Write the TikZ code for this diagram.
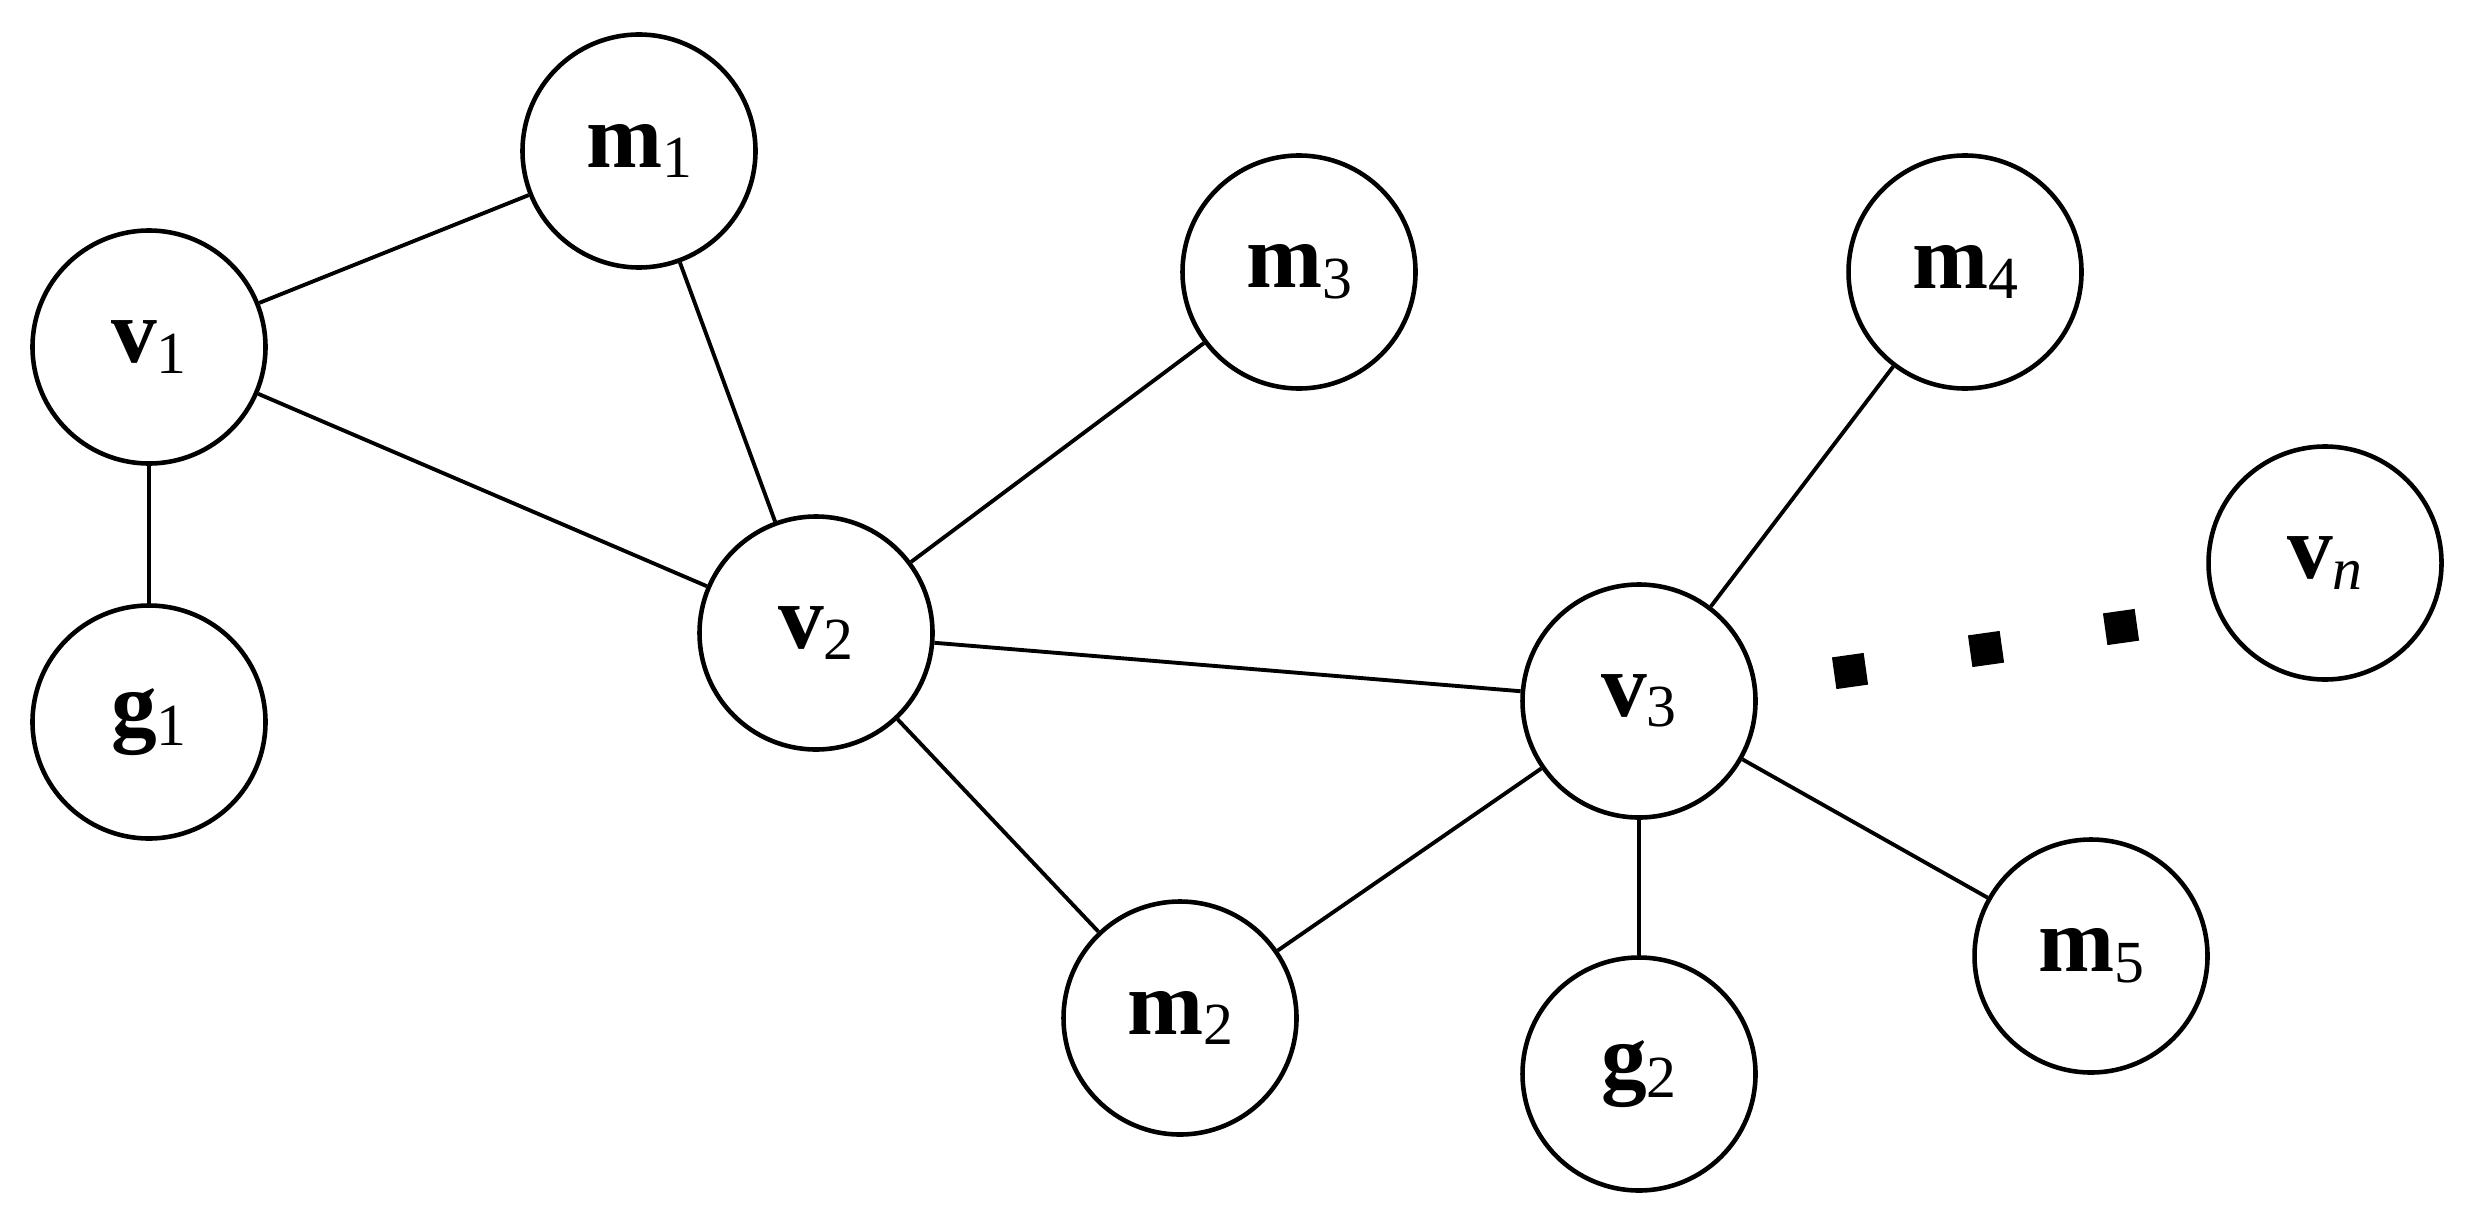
\documentclass[tikz,border=0pt]{standalone}
\usepackage{fontspec}
\setmainfont{Liberation Serif}
\newcommand\nlab[2]{\textbf{#1}\raisebox{-3pt}{\fontsize{17}{18}\selectfont #2}}
\begin{document}
\begin{tikzpicture}[
  vert/.style={circle, draw, line width=1.3pt, minimum size=2.33cm, inner sep=0pt, font=\fontsize{26}{28}\selectfont},
  edge/.style={line width=1.1pt},
  dotsq/.style={fill=black, minimum size=0.32cm, inner sep=0pt, rotate=8}
]
\useasboundingbox (0,0) rectangle (24.69,12.2);
\node[vert] (m1) at (6.39,10.69) {\nlab{m}{1}};
\node[vert] (v1) at (1.49,8.73) {\nlab{v}{1}};
\node[vert] (g1) at (1.49,4.98) {\nlab{g}{1}};
\node[vert] (v2) at (8.16,5.87) {\nlab{v}{2}};
\node[vert] (m3) at (12.99,9.48) {\nlab{m}{3}};
\node[vert] (m4) at (19.65,9.48) {\nlab{m}{4}};
\node[vert] (vn) at (23.25,6.57) {\nlab{v}{\textit{n}}};
\node[vert] (v3) at (16.39,5.19) {\nlab{v}{3}};
\node[vert] (m2) at (11.80,2.02) {\nlab{m}{2}};
\node[vert] (g2) at (16.39,1.46) {\nlab{g}{2}};
\node[vert] (m5) at (20.91,2.64) {\nlab{m}{5}};
\node[dotsq] (d1) at (18.50,5.49) {};
\node[dotsq] (d2) at (19.86,5.71) {};
\node[dotsq] (d3) at (21.21,5.93) {};
\draw[edge] (v1) -- (m1);
\draw[edge] (v1) -- (v2);
\draw[edge] (v1) -- (g1);
\draw[edge] (m1) -- (v2);
\draw[edge] (m3) -- (v2);
\draw[edge] (v2) -- (v3);
\draw[edge] (v2) -- (m2);
\draw[edge] (m2) -- (v3);
\draw[edge] (v3) -- (m4);
\draw[edge] (v3) -- (g2);
\draw[edge] (v3) -- (m5);
\end{tikzpicture}
\end{document}
